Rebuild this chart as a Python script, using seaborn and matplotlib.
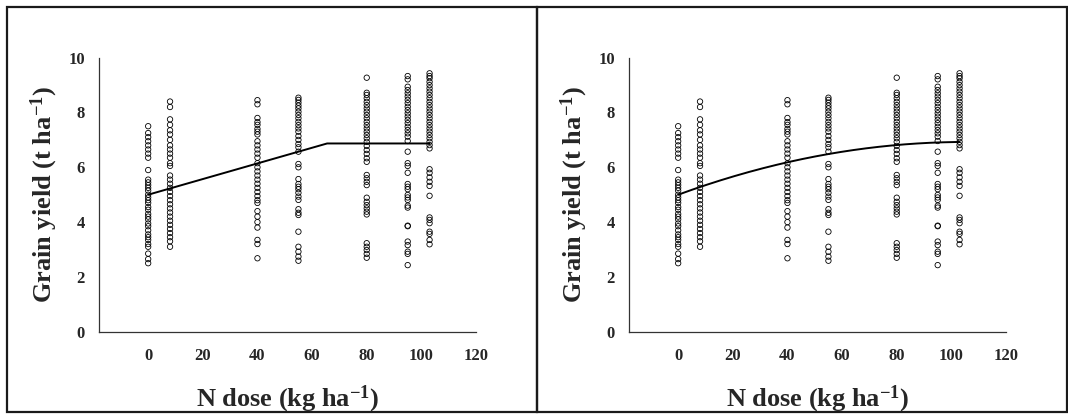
import numpy as np
import pandas as pd
import seaborn as sns
import matplotlib.pyplot as plt
from matplotlib.patches import Rectangle

# N doses (kg/ha) and yields (t/ha)
doses = [0, 8, 40, 55, 80, 95, 103]
y_n0 = [7.5, 7.25, 7.1, 6.95, 6.8, 6.65, 6.5, 6.35, 5.9, 5.55, 5.45, 5.35, 5.25,
        5.15, 5.0, 4.9, 4.8, 4.7, 4.55, 4.45, 4.3, 4.2, 4.1, 3.95, 3.85, 3.7,
        3.55, 3.45, 3.35, 3.2, 3.1, 2.85, 2.65, 2.5]
y_n8 = [8.4, 8.2, 7.75, 7.55, 7.35, 7.2, 7.0, 6.8, 6.65, 6.5, 6.35, 6.15, 6.05,
        5.7, 5.55, 5.4, 5.25, 5.1, 4.95, 4.8, 4.65, 4.5, 4.35, 4.2, 4.05, 3.9,
        3.75, 3.6, 3.45, 3.3, 3.1]
y_n40 = [8.45, 8.3, 7.8, 7.65, 7.55, 7.4, 7.3, 7.2, 6.95, 6.8, 6.65, 6.5, 6.35,
         6.15, 6.0, 5.85, 5.7, 5.55, 5.4, 5.25, 5.1, 4.95, 4.8, 4.7, 4.4, 4.2,
         4.0, 3.8, 3.35, 3.2, 2.68]
y_n55 = [8.54, 8.46, 8.36, 8.25, 8.15, 8.03, 7.91, 7.79, 7.66, 7.54, 7.42, 7.3,
         7.14, 7.0, 6.85, 6.73, 6.57, 6.12, 6.0, 5.57, 5.39, 5.29, 5.2, 5.07,
         4.93, 4.81, 4.47, 4.34, 4.26, 3.65, 3.1, 2.92, 2.74, 2.59]
y_n80 = [9.27, 8.72, 8.64, 8.52, 8.39, 8.27, 8.15, 8.03, 7.91, 7.79, 7.66, 7.54,
         7.42, 7.3, 7.18, 7.06, 6.93, 6.78, 6.63, 6.49, 6.33, 6.2, 5.72, 5.6,
         5.47, 5.35, 4.89, 4.74, 4.62, 4.5, 4.38, 4.28, 3.23, 3.1, 2.98, 2.84, 2.7]
y_n95 = [9.33, 9.21, 8.94, 8.82, 8.7, 8.58, 8.46, 8.34, 8.21, 8.09, 7.97, 7.85,
         7.73, 7.61, 7.48, 7.36, 7.24, 7.12, 6.96, 6.57, 6.15, 6.05, 5.8, 5.39,
         5.29, 5.2, 4.99, 4.9, 4.81, 4.6, 4.53, 3.87, 3.85, 3.29, 3.16, 2.92,
         2.84, 2.43]
y_n103 = [9.43, 9.33, 9.25, 9.12, 9.0, 8.88, 8.76, 8.64, 8.52, 8.39, 8.27, 8.15,
          8.03, 7.91, 7.79, 7.66, 7.54, 7.42, 7.3, 7.18, 7.06, 6.93, 6.81, 6.69,
          5.93, 5.8, 5.63, 5.47, 5.32, 4.96, 4.17, 4.08, 3.96, 3.65, 3.57, 3.35,
          3.19]
yields = [y_n0, y_n8, y_n40, y_n55, y_n80, y_n95, y_n103]

# linear-plateau fit (left panel)
lp_x = [0, 65.5, 103]
lp_y = [5.0, 6.87, 6.87]
# quadratic fit coefficients (right panel)
quad_coef = [5.0, 0.0365, -0.000173]

df = pd.DataFrame({
    "dose": np.concatenate([[d] * len(v) for d, v in zip(doses, yields)]),
    "yield": np.concatenate(yields),
})

sns.set_style("white")
plt.rcParams["font.family"] = ["Liberation Serif", "DejaVu Serif"]
plt.rcParams["font.weight"] = "bold"
plt.rcParams["mathtext.fontset"] = "custom"
plt.rcParams["mathtext.rm"] = "Liberation Serif:bold"
plt.rcParams["mathtext.bf"] = "Liberation Serif:bold"
plt.rcParams["mathtext.it"] = "Liberation Serif:bold"

W, H = 1068, 420
fig = plt.figure(figsize=(W / 100, H / 100), dpi=100)

qx = np.linspace(0, 103, 200)
qy = quad_coef[0] + quad_coef[1] * qx + quad_coef[2] * qx ** 2

for i, off in enumerate([0, 530]):
    ax = fig.add_axes([(99 + off) / W, 1 - 331.7 / H, 377 / W, 274 / H])
    sns.scatterplot(data=df, x="dose", y="yield", ax=ax, marker="o",
                    facecolor="none", edgecolor="black", linewidth=0.6, s=15)
    if i == 0:
        sns.lineplot(x=lp_x, y=lp_y, ax=ax, color="black", linewidth=1.4)
    else:
        sns.lineplot(x=qx, y=qy, ax=ax, color="black", linewidth=1.4)
    ax.set_xlim(-18, 120)
    ax.set_ylim(0, 10)
    ax.set_xticks([0, 20, 40, 60, 80, 100, 120])
    ax.set_yticks([0, 2, 4, 6, 8, 10])
    sns.despine(ax=ax)
    for sp in ["left", "bottom"]:
        ax.spines[sp].set_color("#333333")
        ax.spines[sp].set_linewidth(0.9)
    ax.tick_params(axis="both", which="both", direction="out", length=4,
                   width=0.8, color="#333333", labelsize=12)
    ax.tick_params(axis="x", pad=8)
    ax.tick_params(axis="y", pad=6)
    for lab in ax.get_xticklabels() + ax.get_yticklabels():
        lab.set_fontweight("bold")
    ax.set_xlabel("N dose (kg ha$^{-1}$)", fontsize=19, fontweight="bold", labelpad=14)
    ax.set_ylabel("Grain yield (t ha$^{-1}$)", fontsize=19, fontweight="bold", labelpad=6)

    # panel frame
    fig.add_artist(Rectangle(((7 + off) / W, 8 / H), 530 / W, 405 / H,
                             transform=fig.transFigure, fill=False,
                             edgecolor="#1a1a1a", linewidth=1.6))

fig.savefig("out.png", dpi=100)
